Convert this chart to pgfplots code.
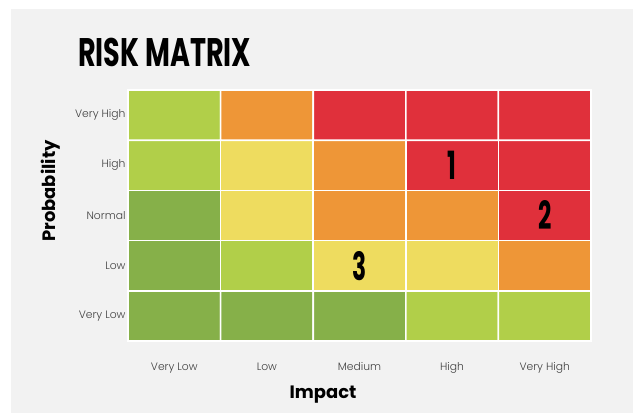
\documentclass[border=0pt]{standalone}
\usepackage{fontspec}
\setmainfont{Poppins}
\newfontfamily\lightfont{Poppins Light}
\usepackage{pgfplots}
\pgfplotsset{compat=1.18}
\definecolor{bg}{HTML}{F2F2F2}
\definecolor{tickc}{HTML}{404040}
\begin{document}
\begin{tikzpicture}[x=1bp,y=1bp]
\fill[white] (0,0) rectangle (633,413);
\fill[bg] (11,0) rectangle (633,404);
\node[anchor=base west, inner sep=0, font=\bfseries\fontsize{40}{40}\selectfont] at (78,347) {\scalebox{0.68}[1]{RISK MATRIX}};
\node[anchor=base, inner sep=0, rotate=90, font=\bfseries\fontsize{18}{18}\selectfont] at (55,222) {Probability};
\node[anchor=base, inner sep=0, font=\bfseries\fontsize{18}{18}\selectfont] at (323,15) {Impact};
\begin{axis}[
  at={(128bp,72bp)}, anchor=south west, scale only axis, width=463bp, height=251bp,
  xmin=-0.5,xmax=4.5,ymin=-0.5,ymax=4.5,
  axis line style={draw=none}, major tick length=0pt,
  xtick={0,...,4}, ytick={0,...,4},
  xticklabels={Very Low,Low,Medium,High,Very High},
  yticklabels={Very Low,Low,Normal,High,Very High},
  ticklabel style={font=\lightfont\fontsize{10.8}{11}\selectfont, text=tickc},
  yticklabel style={xshift=1bp},
  xticklabel style={yshift=-18bp},
  colormap={risk}{rgb255=(134,176,73) rgb255=(177,207,73) rgb255=(238,220,95) rgb255=(238,150,55) rgb255=(224,48,59)},
  colormap access=direct,
  clip=false,
]
\addplot[matrix plot*, mesh/cols=5, point meta=explicit, draw=white, line width=1.6bp] table[meta=c]{
x y c
0 0 0
1 0 0
2 0 0
3 0 1
4 0 1
0 1 0
1 1 1
2 1 2
3 1 2
4 1 3
0 2 0
1 2 2
2 2 3
3 2 3
4 2 4
0 3 1
1 3 2
2 3 3
3 3 4
4 3 4
0 4 1
1 4 3
2 4 4
3 4 4
4 4 4
};
\addplot[draw=none, mark=none, point meta=explicit symbolic, nodes near coords={\scalebox{0.6}[1]{\pgfplotspointmeta}},
  nodes near coords style={anchor=center, inner sep=0, text=black, font=\bfseries\fontsize{39}{39}\selectfont}]
  coordinates {(3,3)[1] (4,2)[2] (2,1)[3]};
\end{axis}
\end{tikzpicture}
\end{document}
